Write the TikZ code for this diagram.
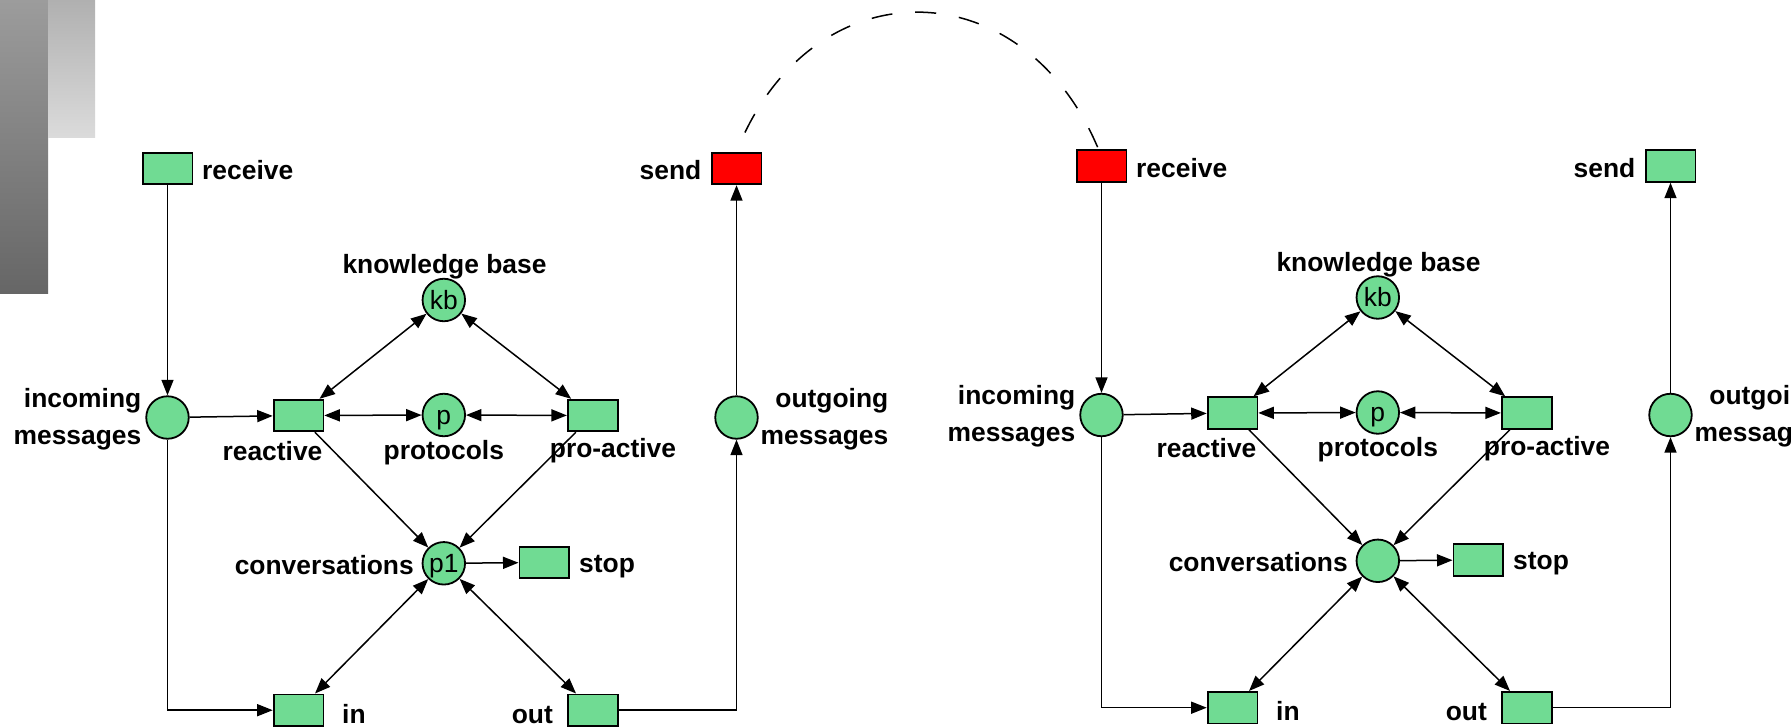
\documentclass[tikz,border=0pt]{standalone}
\usepackage{fontspec}
\setmainfont{Liberation Sans}
\usetikzlibrary{arrows.meta}
\definecolor{pgreen}{RGB}{112,219,147}
\definecolor{pred}{RGB}{255,0,0}
\definecolor{bardtop}{RGB}{156,156,156}
\definecolor{bardbot}{RGB}{102,102,102}
\definecolor{barltop}{RGB}{176,176,176}
\definecolor{barlbot}{RGB}{219,219,219}
\tikzset{
  place/.style={circle, draw, line width=1.8pt, fill=pgreen, minimum size=42.5pt, inner sep=0pt,
    font=\fontsize{26.4}{30}\selectfont, text height=23.9pt, text depth=5.6pt},
  trans/.style={rectangle, draw, line width=1.8pt, fill=pgreen, minimum width=49.8pt, minimum height=31.6pt, inner sep=0pt},
  lab/.style={inner sep=0pt, font=\bfseries\fontsize{26.4}{37.3}\selectfont},
  arr/.style={-{Triangle[length=15.5pt,width=12pt]}, line width=1.5pt},
  darr/.style={{Triangle[length=15.5pt,width=12pt]}-{Triangle[length=15.5pt,width=12pt]}, line width=1.5pt},
  dashline/.style={line width=1.5pt, dash pattern=on 21pt off 23pt, dash phase=23pt}
}
\newcommand{\agentnet}[4]{%
  \node[trans, fill=#2] (#1recv) at (167.5,168.5) {};
  \node[lab, anchor=base west] (#1recvl) at (202,179.5) {receive};
  \node[trans, fill=#3] (#1send) at (736.5,168.5) {};
  \node[lab, anchor=base east] (#1sendl) at (701.5,179.5) {send};
  \node[place] (#1kb) at (443.8,300) {kb};
  \node[lab, anchor=base] (#1kbl) at (444.5,273.5) {knowledge base};
  \node[place] (#1inc) at (167.5,417.5) {};
  \node[lab, anchor=base east, align=right] (#1incl) at (141.5,444.3) {incoming\\messages};
  \node[trans] (#1react) at (298.5,415.5) {};
  \node[lab, anchor=base] (#1reactl) at (272.5,460) {reactive};
  \node[place] (#1p) at (443.8,415) {p};
  \node[lab, anchor=base] (#1pl) at (443.8,459) {protocols};
  \node[trans] (#1pro) at (592.7,415.5) {};
  \node[lab, anchor=base] (#1prol) at (613,457.5) {pro-active};
  \node[place] (#1outg) at (736.5,417.5) {};
  \node[lab, anchor=base east, align=right] (#1outgl) at (888.5,444.3) {outgoing\\messages};
  \node[place] (#1conv) at (443.8,563.3) {#4};
  \node[lab, anchor=base east] (#1convl) at (414,574) {conversations};
  \node[trans] (#1stop) at (544.3,562.5) {};
  \node[lab, anchor=base west] (#1stopl) at (579,572) {stop};
  \node[trans] (#1in) at (298.5,710.2) {};
  \node[lab, anchor=base west] (#1inl) at (342,723) {in};
  \node[trans] (#1out) at (593,710.2) {};
  \node[lab, anchor=base east] (#1outl) at (553,723) {out};
  \draw[arr] (#1recv) -- (#1inc);
  \draw[arr] (#1inc) -- (#1react);
  \draw[darr] (#1react) -- (#1kb);
  \draw[darr] (#1kb) -- (#1pro);
  \draw[darr] (#1react) -- (#1p);
  \draw[darr] (#1p) -- (#1pro);
  \draw[arr] (#1react) -- (#1conv);
  \draw[arr] (#1pro) -- (#1conv);
  \draw[arr] (#1conv) -- (#1stop);
  \draw[darr] (#1conv) -- (#1in);
  \draw[darr] (#1conv) -- (#1out);
  \draw[arr] (#1inc) |- (#1in);
  \draw[arr] (#1out) -| (#1outg);
  \draw[arr] (#1outg) -- (#1send);
}
\begin{document}
\begin{tikzpicture}[x=1pt, y=-1pt]
  \useasboundingbox (0,0) rectangle (1791,728);
  \fill[white] (0,0) rectangle (1791,728);
  \shade[top color=bardtop, bottom color=bardbot] (0,0) rectangle (48,293);
  \shade[top color=barltop, bottom color=barlbot] (48,0) rectangle (95,137);
  \agentnet{L}{pgreen}{pred}{p1}
  \begin{scope}[shift={(934,-2.5)}]
    \agentnet{R}{pred}{pgreen}{}
  \end{scope}
  \draw[dashline] (Lsend.north) .. controls (810,-34) and (1022,-34) .. ([xshift=-3pt]Rrecv.north);
\end{tikzpicture}
\end{document}
